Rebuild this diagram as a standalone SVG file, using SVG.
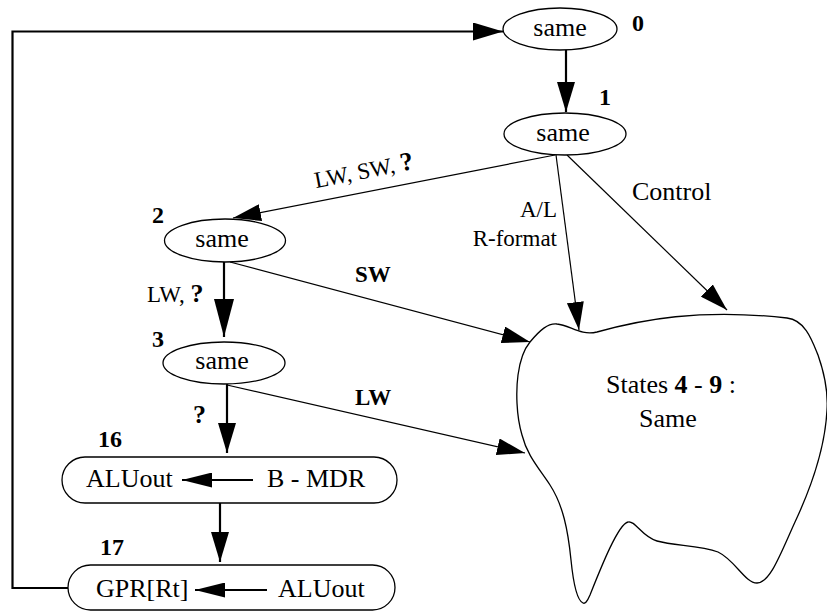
<svg xmlns="http://www.w3.org/2000/svg" width="827" height="611" viewBox="0 0 827 611">
  <style>
    .bg { fill: #ffffff; }
    .shape { fill: #ffffff; stroke: #000000; stroke-width: 1.3; }
    .txt { font-family: "Liberation Serif", "Times New Roman", serif; font-size: 26px; fill: #000000; }
    .num { font-family: "Liberation Serif", "Times New Roman", serif; font-size: 24px; font-weight: bold; fill: #000000; }
    .lbl { font-family: "Liberation Serif", "Times New Roman", serif; font-size: 23px; fill: #000000; }
    .big { font-size: 26px; }
    .b { font-weight: bold; }
    .q { font-weight: bold; font-size: 26px; }
    .thick { fill: none; stroke: #000000; stroke-width: 2.2; }
    .thin { fill: none; stroke: #000000; stroke-width: 1.2; }
  </style>
  <defs>
    <marker id="head" markerUnits="userSpaceOnUse" markerWidth="31" markerHeight="18" refX="30" refY="9" orient="auto" viewBox="0 0 31 18">
      <path d="M0,0 L30,9 L0,18 Z" fill="#000000"/>
    </marker>
    <marker id="headLong" markerUnits="userSpaceOnUse" markerWidth="39" markerHeight="20" refX="38" refY="10" orient="auto" viewBox="0 0 39 20">
      <path d="M0,0 L38,10 L0,20 Z" fill="#000000"/>
    </marker>
    <marker id="headThin" markerUnits="userSpaceOnUse" markerWidth="29" markerHeight="17" refX="28" refY="8.5" orient="auto" viewBox="0 0 29 17">
      <path d="M0,0 L28,8.5 L0,17 Z" fill="#000000"/>
    </marker>
    <marker id="headFlat" markerUnits="userSpaceOnUse" markerWidth="31" markerHeight="15" refX="30" refY="7.5" orient="auto" viewBox="0 0 31 15">
      <path d="M0,0 L30,7.5 L0,15 Z" fill="#000000"/>
    </marker>
  </defs>

  <rect class="bg" x="0" y="0" width="827" height="611"/>

  <!-- transitions between states -->
  <g id="connectors">
    <polyline class="thick" points="68,588 12.5,588 12.5,31.5 503,31.5" marker-end="url(#head)"/>
    <line class="thick" x1="566" y1="50" x2="566" y2="112" marker-end="url(#head)"/>
    <line class="thin" x1="555" y1="155" x2="233" y2="218" marker-end="url(#headThin)"/>
    <line class="thin" x1="556" y1="155" x2="579" y2="330" marker-end="url(#headThin)"/>
    <line class="thin" x1="567" y1="155" x2="727" y2="310" marker-end="url(#headThin)"/>
    <line class="thick" x1="224" y1="262" x2="224" y2="337" marker-end="url(#headLong)"/>
    <line class="thin" x1="230" y1="262" x2="530" y2="342" marker-end="url(#headThin)"/>
    <line class="thick" x1="227" y1="384" x2="227" y2="453" marker-end="url(#head)"/>
    <line class="thin" x1="227" y1="385" x2="525" y2="453" marker-end="url(#headThin)"/>
    <line class="thick" x1="220" y1="503" x2="220" y2="562" marker-end="url(#head)"/>

    <text class="lbl" transform="translate(316,188) rotate(-11)">LW, SW, <tspan class="q">?</tspan></text>
    <text class="lbl" x="557" y="217" text-anchor="end">A/L</text>
    <text class="lbl" x="557" y="246" text-anchor="end">R-format</text>
    <text class="lbl big" x="632" y="200">Control</text>
    <text class="lbl" x="147" y="302">LW, <tspan class="q">?</tspan></text>
    <text class="lbl b" x="355" y="282">SW</text>
    <text class="lbl b" x="355" y="405">LW</text>
    <text class="lbl q" x="193" y="423">?</text>
  </g>

  <g id="node-0">
    <ellipse class="shape" cx="560" cy="29" rx="57" ry="21"/>
    <text class="txt" x="560" y="36" text-anchor="middle">same</text>
    <text class="num" x="632" y="31">0</text>
  </g>

  <g id="node-1">
    <ellipse class="shape" cx="565" cy="134" rx="61" ry="21"/>
    <text class="txt" x="563" y="141" text-anchor="middle">same</text>
    <text class="num" x="599" y="105">1</text>
  </g>

  <g id="node-2">
    <ellipse class="shape" cx="225" cy="240.5" rx="60.5" ry="21.5"/>
    <text class="txt" x="222" y="247" text-anchor="middle">same</text>
    <text class="num" x="152" y="223">2</text>
  </g>

  <g id="node-3">
    <ellipse class="shape" cx="224" cy="363" rx="61" ry="21"/>
    <text class="txt" x="222" y="369" text-anchor="middle">same</text>
    <text class="num" x="152" y="347">3</text>
  </g>

  <g id="node-16">
    <rect class="shape" x="62" y="457" width="335" height="46" rx="23" ry="23"/>
    <text class="txt" x="86" y="487">ALUout</text>
    <line class="thick" x1="253" y1="480" x2="182" y2="480" marker-end="url(#headFlat)"/>
    <text class="txt" x="267" y="487">B - MDR</text>
    <text class="num" x="98" y="447">16</text>
  </g>

  <g id="node-17">
    <rect class="shape" x="68" y="565" width="327" height="45" rx="22.5" ry="22.5"/>
    <text class="txt" x="96" y="597">GPR[Rt]</text>
    <line class="thick" x1="267" y1="590" x2="195" y2="590" marker-end="url(#headFlat)"/>
    <text class="txt" x="278" y="597">ALUout</text>
    <text class="num" x="100" y="555">17</text>
  </g>

  <g id="node-states">
    <path class="shape" d="M530,342
      C540,330 548,323 557,324
      C570,325 580,336 597,332
      C640,320 700,308 787,318
      C805,320 812,340 818,355
      C825,375 828,395 827,410
      C825,450 810,490 795,522
      C780,555 770,583 757,583
      C745,583 735,560 718,552
      C700,545 675,546 657,541
      C642,537 635,520 628,522
      C618,524 600,570 590,595
      C587,602 585,604 583,603
      C576,600 573,580 571,560
      C568,530 563,505 550,485
      C538,467 527,455 522,435
      C516,415 516,390 518,375
      C520,360 525,348 530,342 Z"/>
    <text class="txt" x="671" y="393" text-anchor="middle">States <tspan class="b">4</tspan> - <tspan class="b">9</tspan> :</text>
    <text class="txt" x="668" y="427" text-anchor="middle">Same</text>
  </g>
</svg>
